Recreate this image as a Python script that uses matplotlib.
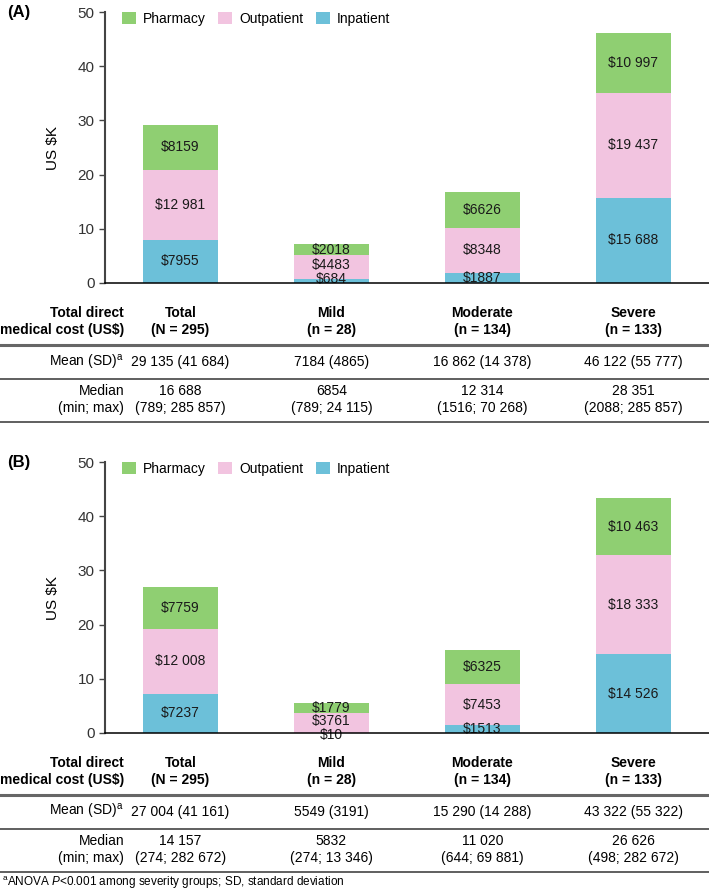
import matplotlib.pyplot as plt
from matplotlib.lines import Line2D
from matplotlib.patches import Patch
from matplotlib.transforms import blended_transform_factory

plt.rcParams['font.family'] = ['Liberation Sans', 'DejaVu Sans']
plt.rcParams['mathtext.fontset'] = 'custom'
plt.rcParams['mathtext.rm'] = 'Liberation Sans'
plt.rcParams['mathtext.it'] = 'Liberation Sans:italic'
plt.rcParams['mathtext.bf'] = 'Liberation Sans:bold'

groups = ['Total', 'Mild', 'Moderate', 'Severe']
group_n = ['(N = 295)', '(n = 28)', '(n = 134)', '(n = 133)']
components = ['Pharmacy', 'Outpatient', 'Inpatient']
colors = {'Pharmacy': '#8fcf72', 'Outpatient': '#f2c4e0', 'Inpatient': '#6cc0d9'}

# panel A
inpatient_a = [7955, 684, 1887, 15688]
outpatient_a = [12981, 4483, 8348, 19437]
pharmacy_a = [8159, 2018, 6626, 10997]
mean_sd_a = ['29 135 (41 684)', '7184 (4865)', '16 862 (14 378)', '46 122 (55 777)']
median_a = ['16 688', '6854', '12 314', '28 351']
minmax_a = ['(789; 285 857)', '(789; 24 115)', '(1516; 70 268)', '(2088; 285 857)']

# panel B
inpatient_b = [7237, 10, 1513, 14526]
outpatient_b = [12008, 3761, 7453, 18333]
pharmacy_b = [7759, 1779, 6325, 10463]
mean_sd_b = ['27 004 (41 161)', '5549 (3191)', '15 290 (14 288)', '43 322 (55 322)']
median_b = ['14 157', '5832', '11 020', '26 626']
minmax_b = ['(274; 282 672)', '(274; 13 346)', '(644; 69 881)', '(498; 282 672)']

W, H = 709, 892
fig = plt.figure(figsize=(W / 100, H / 100), dpi=100)


def fy(p):
    return 1 - p / H


def money(v):
    if v >= 10000:
        return '$' + f'{v:,}'.replace(',', ' ')
    return f'${v}'


def label_pos(centers, gap=2.5, floor=0.75):
    # push labels up from the axis, then pull them back down under the top one
    ys = []
    for c in centers:
        y = max(c, floor) if not ys else max(c, ys[-1] + gap)
        ys.append(y)
    ys[-1] = min(ys[-1], centers[-1])
    for j in range(len(ys) - 2, -1, -1):
        ys[j] = min(ys[j], ys[j + 1] - gap)
    return ys


def panel(off, tag, inp, outp, pharm, mean_sd, median, minmax):
    ax = fig.add_axes([105 / W, fy(283 + off), 604 / W, 271 / H])
    x = range(len(groups))
    bottom = [0] * len(groups)
    centers = [[] for _ in x]
    stack = [('Inpatient', inp), ('Outpatient', outp), ('Pharmacy', pharm)]
    for name, vals in stack:
        k = [v / 1000 for v in vals]
        ax.bar(x, k, 0.5, bottom=bottom, color=colors[name], linewidth=0)
        for i in x:
            centers[i].append(bottom[i] + k[i] / 2)
        bottom = [b + kk for b, kk in zip(bottom, k)]
    for i in x:
        ys = label_pos(centers[i])
        for (name, vals), y in zip(stack, ys):
            ax.text(i, y, money(vals[i]), ha='center', va='center',
                    fontsize=10, color='#1a1a1a')

    ax.set_xlim(-0.5, 3.5)
    ax.set_ylim(0, 50)
    ax.set_yticks(range(0, 51, 10))
    ax.set_xticks([])
    ax.tick_params(axis='y', labelsize=11, labelcolor='#333333', length=4,
                   width=1, color='#444444')
    for s in ['top', 'right']:
        ax.spines[s].set_visible(False)
    ax.spines['left'].set_color('#444444')
    ax.spines['left'].set_linewidth(1.5)
    ax.spines['bottom'].set_color('black')
    ax.spines['bottom'].set_linewidth(1.1)
    ax.spines['bottom'].set_zorder(5)
    ax.set_ylabel('US $K', fontsize=11)
    ax.yaxis.set_label_coords((60 - 105) / 604, 0.5)

    handles = [Patch(color=colors[c], linewidth=0) for c in components]
    ax.legend(handles, components, loc='upper left', bbox_to_anchor=(17 / 604, 1.0),
              ncol=3, frameon=False, handlelength=1.0, handleheight=1.0,
              handletextpad=0.5, columnspacing=0.9, borderpad=0,
              borderaxespad=0, fontsize=10)

    fig.text(7 / W, fy(12 + off), tag, fontsize=12, fontweight='bold', va='center')

    # table below the bars
    tr = blended_transform_factory(ax.transData, fig.transFigure)
    lx = 124 / W
    fig.text(lx, fy(313 + off), 'Total direct', ha='right', va='center',
             fontsize=10, fontweight='bold')
    fig.text(lx, fy(330 + off), 'medical cost (US$)', ha='right', va='center',
             fontsize=10, fontweight='bold')
    fig.text(lx, fy(362 + off), r'Mean (SD)$^\mathrm{a}$', ha='right', va='center',
             fontsize=10)
    fig.text(lx, fy(391 + off), 'Median', ha='right', va='center', fontsize=10)
    fig.text(lx, fy(408 + off), '(min; max)', ha='right', va='center', fontsize=10)
    for i in x:
        ax.text(i, fy(313 + off), groups[i], transform=tr, ha='center', va='center',
                fontsize=10, fontweight='bold')
        ax.text(i, fy(330 + off), group_n[i], transform=tr, ha='center', va='center',
                fontsize=10, fontweight='bold')
        ax.text(i, fy(362 + off), mean_sd[i], transform=tr, ha='center', va='center',
                fontsize=10)
        ax.text(i, fy(391 + off), median[i], transform=tr, ha='center', va='center',
                fontsize=10)
        ax.text(i, fy(408 + off), minmax[i], transform=tr, ha='center', va='center',
                fontsize=10)

    fig.add_artist(Line2D([0, 1], [fy(345 + off)] * 2, transform=fig.transFigure,
                          color='#666666', lw=2.2))
    for p in [379, 422]:
        fig.add_artist(Line2D([0, 1], [fy(p + off)] * 2, transform=fig.transFigure,
                              color='#444444', lw=1.2))


panel(0, '(A)', inpatient_a, outpatient_a, pharmacy_a, mean_sd_a, median_a, minmax_a)
panel(450, '(B)', inpatient_b, outpatient_b, pharmacy_b, mean_sd_b, median_b, minmax_b)

fig.text(2 / W, fy(883),
         r'$^\mathrm{a}$ANOVA $P$<0.001 among severity groups; SD, standard deviation',
         fontsize=8.5, va='center')

fig.savefig('out.png', dpi=100)
